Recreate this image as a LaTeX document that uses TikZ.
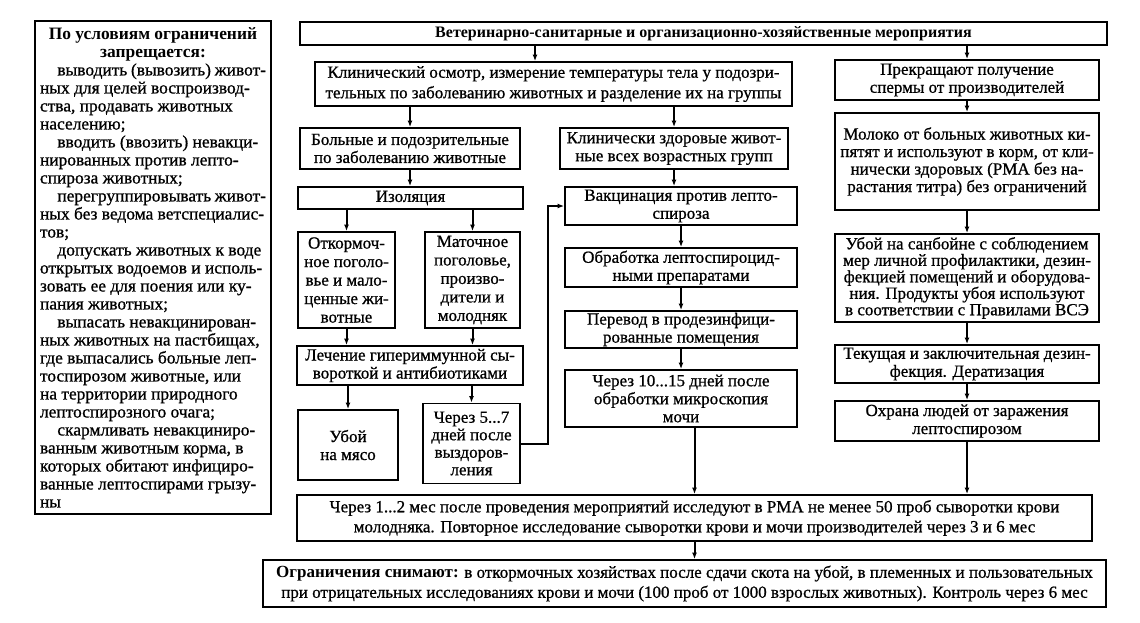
\documentclass[tikz,border=0pt]{standalone}
\usepackage{fontspec}
\setmainfont{Liberation Serif}[FakeBold=0.8]
\usetikzlibrary{arrows.meta}
\newcommand\mycl[1]{\hbox to\hsize{\hfil#1\hfil}}
\newcommand\myll[1]{\hbox to\hsize{#1\hfil}}
\newcommand\myin{\hspace*{1em}}
\newfontfamily\hdfont{Liberation Serif Bold}
\begin{document}
\begin{tikzpicture}[x=1pt,y=-1pt,
  box/.style={draw,line width=1.8pt,inner sep=1.5pt,align=center,
    font=\fontsize{17}{18}\selectfont},
  arr/.style={line width=2pt,-{Latex[length=6.5pt,width=5pt]}},
  ]
\useasboundingbox (0,0) rectangle (1140,623);

% left box
\node[box,minimum width=236pt,minimum height=493pt,inner sep=0pt,font=\fontsize{17.4}{18}\selectfont] (left) at (153,267.5)
{\vbox{\hsize=226pt\baselineskip=18pt\lineskiplimit=0pt\lineskip=0pt
\mycl{\hdfont По условиям ограничений}
\mycl{\hdfont запрещается:}
\myll{\myin выводить (вывозить) живот-}
\myll{ных для целей воспроизвод-}
\myll{ства, продавать животных}
\myll{населению;}
\myll{\myin вводить (ввозить) невакци-}
\myll{нированных против лепто-}
\myll{спироза животных;}
\myll{\myin перегруппировывать живот-}
\myll{ных без ведома ветспециалис-}
\myll{тов;}
\myll{\myin допускать животных к воде}
\myll{открытых водоемов и исполь-}
\myll{зовать ее для поения или ку-}
\myll{пания животных;}
\myll{\myin выпасать невакцинирован-}
\myll{ных животных на пастбищах,}
\myll{где выпасались больные леп-}
\myll{тоспирозом животные, или}
\myll{на территории природного}
\myll{лептоспирозного очага;}
\myll{\myin скармливать невакциниро-}
\myll{ванным животным корма, в}
\myll{которых обитают инфициро-}
\myll{ванные лептоспирами грызу-}
\myll{ны}}};

% top
\node[box,minimum width=807pt,minimum height=23pt,font=\fontsize{16}{18}\selectfont\hdfont] (top) at (703.5,33.5)
 {Ветеринарно-санитарные и организационно-хозяйственные мероприятия};

\node[box,minimum width=477pt,minimum height=44pt,font=\fontsize{17}{20.5}\selectfont] (clin) at (553.5,84)
 {Клинический осмотр, измерение температуры тела у подозри-\\тельных по заболеванию животных и разделение их на группы};

\node[box,minimum width=264pt,minimum height=40pt] (prekr) at (967,80)
 {Прекращают получение\\спермы от производителей};

\node[box,minimum width=220pt,minimum height=41pt] (bol) at (410,148.5)
 {Больные и подозрительные\\по заболеванию животные};
\node[box,minimum width=228pt,minimum height=41pt] (klz) at (674,148.5)
 {Клинически здоровые живот-\\ные всех возрастных групп};

\node[box,minimum width=225pt,minimum height=22pt] (izol) at (410.5,198) {Изоляция};
\node[box,minimum width=232pt,minimum height=38pt] (vakc) at (681,206)
 {Вакцинация против лепто-\\спироза};

\node[box,minimum width=97pt,minimum height=96pt,font=\fontsize{17}{18.5}\selectfont] (otk) at (346.5,280)
 {Откормоч-\\ное поголо-\\вье и мало-\\ценные жи-\\вотные};
\node[box,minimum width=95pt,minimum height=96pt,font=\fontsize{17}{18.5}\selectfont] (mat) at (472.5,280)
 {Маточное\\поголовье,\\произво-\\дители и\\молодняк};

\node[box,minimum width=232pt,minimum height=39pt] (obr) at (681,267.5)
 {Обработка лептоспироцид-\\ными препаратами};
\node[box,minimum width=232pt,minimum height=37pt] (per) at (681,329.5)
 {Перевод в продезинфици-\\рованные помещения};
\node[box,minimum width=226pt,minimum height=39pt] (lech) at (410,365.5)
 {Лечение гипериммунной сы-\\вороткой и антибиотиками};
\node[box,minimum width=232pt,minimum height=57pt] (ch10) at (681,398.5)
 {Через 10...15 дней после\\обработки микроскопия\\мочи};

\node[box,minimum width=100pt,minimum height=70pt] (uboy) at (348,445)
 {Убой\\на мясо};
\node[box,minimum width=97pt,minimum height=80pt,font=\fontsize{17}{17.5}\selectfont] (ch5) at (471.5,443.5)
 {Через 5...7\\дней после\\выздоров-\\ления};

\node[box,minimum width=264pt,minimum height=97pt,font=\fontsize{17}{17.5}\selectfont] (mol) at (967,161.5)
 {Молоко от больных животных ки-\\пятят и используют в корм, от кли-\\нически здоровых (РМА без на-\\растания титра) без ограничений};
\node[box,minimum width=264pt,minimum height=88pt,font=\fontsize{17}{16.5}\selectfont] (sanb) at (967,278)
 {Убой на санбойне с соблюдением\\мер личной профилактики, дезин-\\фекцией помещений и оборудова-\\ния. Продукты убоя используют\\в соответствии с Правилами ВСЭ};
\node[box,minimum width=264pt,minimum height=38pt] (tek) at (967,364)
 {Текущая и заключительная дезин-\\фекция. Дератизация};
\node[box,minimum width=264pt,minimum height=40pt] (okh) at (967,421)
 {Охрана людей от заражения\\лептоспирозом};

\node[box,minimum width=795pt,minimum height=46pt,font=\fontsize{17}{20}\selectfont] (ch12) at (694.5,518)
 {Через 1...2 мес после проведения мероприятий исследуют в РМА не менее 50 проб сыворотки крови\\молодняка. Повторное исследование сыворотки крови и мочи производителей через 3 и 6 мес};
\node[box,minimum width=843pt,minimum height=47pt,font=\fontsize{17}{20}\selectfont] (bot) at (684.5,583.5)
 {{\hdfont Ограничения снимают:} в откормочных хозяйствах после сдачи скота на убой, в племенных и пользовательных\\при отрицательных исследованиях крови и мочи (100 проб от 1000 взрослых животных). Контроль через 6 мес};

% connectors
\coordinate (a1) at (535,0);
\coordinate (jx) at (548,0);
\draw[arr] (top.south -| a1) -- (clin.north -| a1);
\draw[arr] (top.south -| prekr) -- (prekr.north);
\draw[arr] (clin.south -| bol) -- (bol.north);
\draw[arr] (clin.south -| klz) -- (klz.north);
\draw[arr] (bol.south) -- (bol.south |- izol.north);
\draw[arr] (klz.south) -- (klz.south |- vakc.north);
\draw[arr] (izol.south -| otk) -- (otk.north);
\draw[arr] (izol.south -| mat) -- (mat.north);
\draw[arr] (otk.south) -- (otk.south |- lech.north);
\draw[arr] (mat.south) -- (mat.south |- lech.north);
\draw[arr] (lech.south -| uboy) -- (uboy.north);
\draw[arr] (lech.south -| ch5) -- (ch5.north);
\draw[arr] (ch5.east) -- (ch5.east -| jx) |- (vakc.west);
\draw[arr] (vakc.south) -- (obr.north);
\draw[arr] (obr.south) -- (per.north);
\draw[arr] (per.south) -- (ch10.north);
\draw[arr] (ch10.south -| ch12) -- (ch12.north);
\draw[arr] (prekr.south) -- (mol.north);
\draw[arr] (mol.south) -- (sanb.north);
\draw[arr] (sanb.south) -- (tek.north);
\draw[arr] (tek.south) -- (okh.north);
\draw[arr] (okh.south) -- (okh.south |- ch12.north);
\draw[arr] (ch12.south) -- (ch12.south |- bot.north);
\end{tikzpicture}
\end{document}
